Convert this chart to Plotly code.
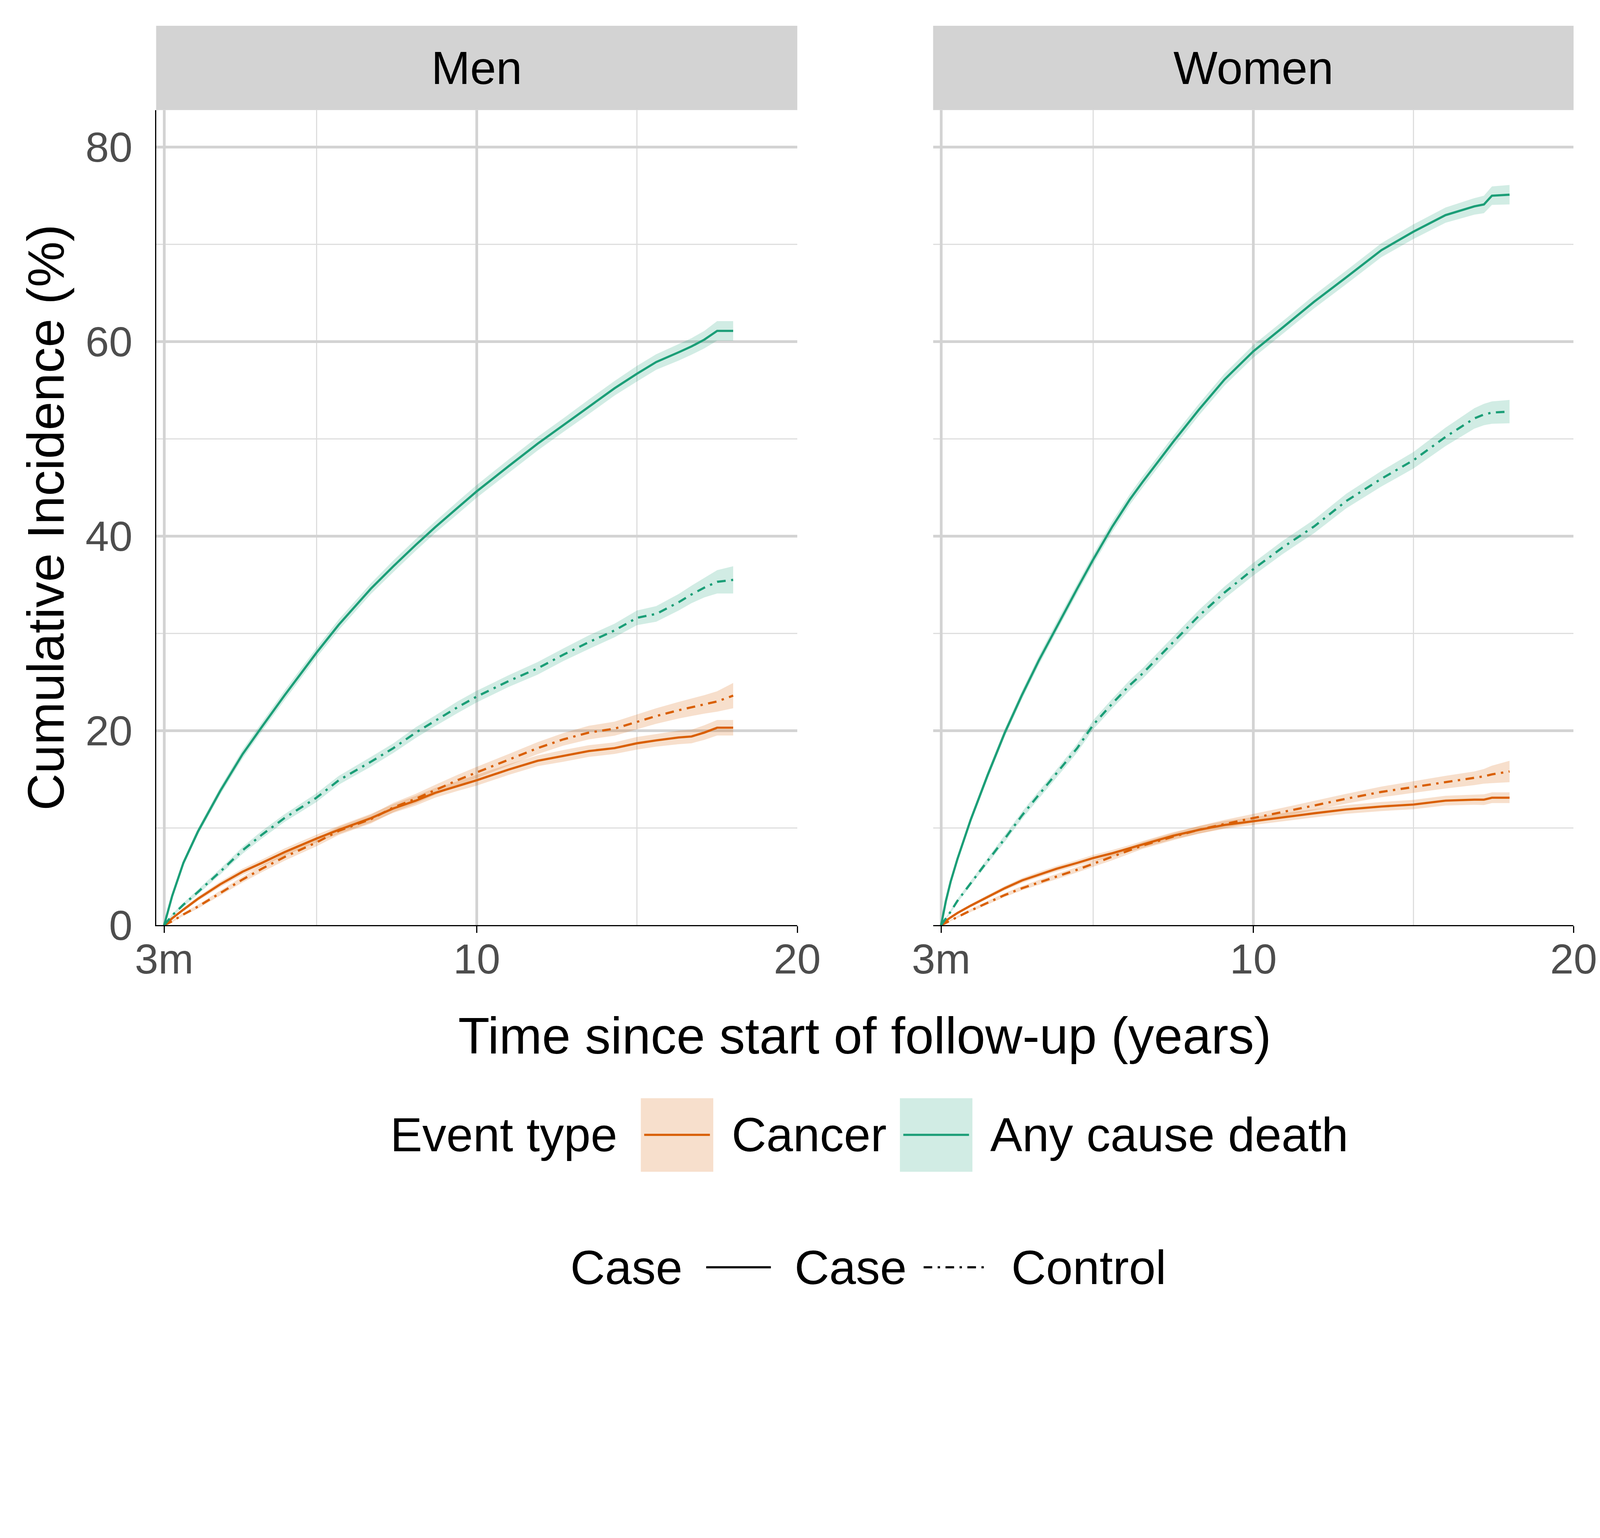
import plotly.graph_objects as go

# time grid (years) for each panel
t_men = [0.25, 0.5, 0.85, 1.3, 2.0, 2.7, 3.3, 4.0, 5.0, 5.7, 6.7, 7.4, 8.1, 8.7, 9.4, 10.0,
         11.0, 11.9, 12.7, 13.5, 14.3, 15.0, 15.6, 16.3, 16.7, 17.1, 17.5, 18.0]
t_women = [0.25, 0.4, 0.55, 0.76, 1.17, 1.7, 2.24, 2.78, 3.3, 3.86, 4.5, 5.0, 5.6, 6.15, 6.55, 7.5,
           8.3, 9.1, 10.0, 10.9, 11.9, 12.9, 14.0, 15.0, 16.0, 16.9, 17.2, 17.45, 18.0]

# Men - cumulative incidence (%) and half width of the ribbon
men_death_case = [0, 3.0, 6.4, 9.6, 13.8, 17.6, 20.4, 23.6, 28.0, 30.9, 34.6, 36.9, 39.1, 40.9, 42.9, 44.6,
                  47.2, 49.5, 51.4, 53.3, 55.2, 56.7, 57.9, 58.9, 59.5, 60.2, 61.1, 61.1]
men_death_ctrl = [0, 1.0, 2.1, 3.4, 5.5, 7.7, 9.3, 11.0, 13.1, 14.9, 16.8, 18.2, 19.8, 21.0, 22.4, 23.5,
                  25.1, 26.4, 27.8, 29.1, 30.3, 31.6, 32.0, 33.2, 34.0, 34.7, 35.3, 35.5]
men_cancer_case = [0, 0.7, 1.6, 2.7, 4.2, 5.5, 6.4, 7.5, 8.9, 9.8, 11.0, 12.0, 12.8, 13.6, 14.3, 14.9,
                   16.0, 16.9, 17.4, 17.9, 18.2, 18.7, 19.0, 19.3, 19.4, 19.8, 20.3, 20.3]
men_cancer_ctrl = [0, 0.4, 1.1, 1.9, 3.3, 4.7, 5.8, 7.0, 8.5, 9.7, 10.9, 12.1, 13.0, 13.9, 14.9, 15.7,
                   17.0, 18.2, 19.1, 19.8, 20.2, 20.9, 21.5, 22.1, 22.4, 22.7, 23.0, 23.6]
men_death_case_ci = [0, 0.25, 0.3, 0.35, 0.4, 0.45, 0.45, 0.5, 0.5, 0.55, 0.55, 0.6, 0.6, 0.6, 0.65, 0.65,
                     0.7, 0.7, 0.7, 0.75, 0.75, 0.8, 0.8, 0.85, 0.85, 0.9, 1.0, 1.0]
men_death_ctrl_ci = [0, 0.15, 0.2, 0.25, 0.3, 0.35, 0.4, 0.4, 0.45, 0.45, 0.5, 0.5, 0.55, 0.55, 0.6, 0.6,
                     0.6, 0.65, 0.65, 0.7, 0.7, 0.75, 0.8, 0.85, 0.9, 1.0, 1.2, 1.4]
men_cancer_case_ci = [0, 0.12, 0.18, 0.22, 0.28, 0.32, 0.35, 0.38, 0.4, 0.42, 0.45, 0.45, 0.5, 0.5, 0.5, 0.55,
                      0.55, 0.55, 0.6, 0.6, 0.6, 0.65, 0.65, 0.7, 0.7, 0.75, 0.8, 0.8]
men_cancer_ctrl_ci = [0, 0.1, 0.15, 0.2, 0.25, 0.3, 0.35, 0.38, 0.4, 0.42, 0.45, 0.48, 0.5, 0.52, 0.55, 0.58,
                      0.6, 0.62, 0.65, 0.7, 0.72, 0.75, 0.8, 0.85, 0.9, 0.95, 1.05, 1.3]

# Women
women_death_case = [0, 2.5, 4.5, 6.8, 10.8, 15.4, 19.8, 23.7, 27.2, 30.7, 34.6, 37.6, 41.0, 43.8, 45.6, 49.7,
                    53.0, 56.1, 59.0, 61.4, 64.1, 66.6, 69.4, 71.3, 73.0, 73.9, 74.1, 75.0, 75.1]
women_death_ctrl = [0, 0.7, 1.4, 2.5, 4.3, 6.6, 8.9, 11.3, 13.4, 15.6, 18.2, 20.6, 22.8, 24.7, 25.9, 29.1,
                    31.8, 34.2, 36.6, 38.8, 41.0, 43.6, 45.9, 47.8, 50.2, 52.1, 52.5, 52.7, 52.8]
women_cancer_case = [0, 0.45, 0.8, 1.25, 2.0, 2.9, 3.8, 4.6, 5.2, 5.8, 6.4, 6.9, 7.4, 7.9, 8.3, 9.2,
                     9.8, 10.3, 10.7, 11.1, 11.5, 11.9, 12.2, 12.4, 12.8, 12.9, 12.9, 13.1, 13.1]
women_cancer_ctrl = [0, 0.25, 0.5, 0.85, 1.5, 2.3, 3.1, 3.8, 4.4, 5.0, 5.7, 6.3, 7.0, 7.7, 8.2, 9.1,
                     9.8, 10.4, 11.0, 11.6, 12.3, 13.0, 13.7, 14.2, 14.7, 15.1, 15.3, 15.5, 15.8]
women_death_case_ci = [0, 0.2, 0.25, 0.3, 0.35, 0.4, 0.42, 0.45, 0.48, 0.5, 0.5, 0.52, 0.55, 0.55, 0.58, 0.6,
                       0.6, 0.62, 0.65, 0.65, 0.68, 0.7, 0.72, 0.75, 0.78, 0.85, 0.9, 0.95, 1.0]
women_death_ctrl_ci = [0, 0.1, 0.15, 0.2, 0.25, 0.3, 0.35, 0.38, 0.4, 0.42, 0.45, 0.48, 0.5, 0.52, 0.55, 0.58,
                       0.6, 0.62, 0.65, 0.68, 0.7, 0.75, 0.8, 0.85, 0.95, 1.05, 1.1, 1.15, 1.2]
women_cancer_case_ci = [0, 0.08, 0.1, 0.13, 0.16, 0.2, 0.22, 0.25, 0.27, 0.28, 0.3, 0.32, 0.33, 0.34, 0.35, 0.37,
                        0.38, 0.4, 0.4, 0.42, 0.43, 0.45, 0.47, 0.48, 0.5, 0.52, 0.55, 0.55, 0.55]
women_cancer_ctrl_ci = [0, 0.06, 0.08, 0.1, 0.14, 0.18, 0.2, 0.22, 0.25, 0.27, 0.28, 0.3, 0.32, 0.34, 0.35, 0.37,
                        0.4, 0.42, 0.44, 0.46, 0.48, 0.5, 0.55, 0.6, 0.65, 0.7, 0.75, 0.9, 1.1]

x_tickvals = [0.25, 10, 20]
x_ticktext = ["3m", "10", "20"]
y_tickvals = [0, 20, 40, 60, 80]
panel_titles = ["Men", "Women"]
event_labels = ["Cancer", "Any cause death"]
case_labels = ["Case", "Control"]

# the page is narrower in css px than the 4724 px picture (~4094 css px across),
# so the figure follows the page width and all pixel sizes are scaled down
REF_W, REF_H = 4724, 3937
VIEW = 4094
S = VIEW / REF_W
BODY = 8  # default page margin of the html page
W, H = VIEW - 2 * BODY, REF_H * S - 2 * BODY
FONT = "Liberation Sans, Arial, sans-serif"
ORANGE = "#D95F02"
GREEN = "#1B9E77"
ORANGE_FILL = "rgba(217,95,2,0.2)"
GREEN_FILL = "rgba(27,158,119,0.2)"
DOTDASH = "%dpx,%dpx,%dpx,%dpx" % (26 * S, 17 * S, 7 * S, 17 * S)
LW = 6.5 * S


def sz(v):
    return v * S


def px_x(p):
    # picture pixel -> paper fraction
    return (p * S - BODY) / W


def px_y(p):
    return 1 - (p * S - BODY) / H


fig = go.Figure()


def add_band(t, y, ci, fill, xa, ya):
    upper = [v + c for v, c in zip(y, ci)]
    lower = [max(v - c, 0) for v, c in zip(y, ci)]
    fig.add_trace(go.Scatter(x=t + t[::-1], y=upper + lower[::-1], fill="toself",
                             fillcolor=fill, line=dict(width=0), mode="lines",
                             hoverinfo="skip", showlegend=False, xaxis=xa, yaxis=ya))


def add_line(t, y, color, dash, xa, ya):
    fig.add_trace(go.Scatter(x=t, y=y, mode="lines", line=dict(color=color, width=LW, dash=dash),
                             showlegend=False, xaxis=xa, yaxis=ya))


panels = [
    ("x", "y", t_men, [(men_cancer_case, men_cancer_case_ci, ORANGE, ORANGE_FILL, "solid"),
                       (men_cancer_ctrl, men_cancer_ctrl_ci, ORANGE, ORANGE_FILL, DOTDASH),
                       (men_death_case, men_death_case_ci, GREEN, GREEN_FILL, "solid"),
                       (men_death_ctrl, men_death_ctrl_ci, GREEN, GREEN_FILL, DOTDASH)]),
    ("x2", "y2", t_women, [(women_cancer_case, women_cancer_case_ci, ORANGE, ORANGE_FILL, "solid"),
                           (women_cancer_ctrl, women_cancer_ctrl_ci, ORANGE, ORANGE_FILL, DOTDASH),
                           (women_death_case, women_death_case_ci, GREEN, GREEN_FILL, "solid"),
                           (women_death_ctrl, women_death_ctrl_ci, GREEN, GREEN_FILL, DOTDASH)]),
]

# ribbons first, then the lines on top
for xa, ya, t, series in panels:
    for y, ci, col, fill, dash in series:
        add_band(t, y, ci, fill, xa, ya)
for xa, ya, t, series in panels:
    for y, ci, col, fill, dash in series:
        add_line(t, y, col, dash, xa, ya)

# panel geometry (pixels of the 4724x3937 picture)
panel_x = [(461, 2354), (2755, 4646)]
panel_top, panel_bottom = 325, 2731
strip_top = 76

grid_major = "#D3D3D3"
grid_minor = "#DEDEDE"
tick_font = dict(family=FONT, size=sz(125), color="#4D4D4D")

for i, (x0, x1) in enumerate(panel_x):
    sfx = "" if i == 0 else "2"
    fig.update_layout(**{
        "xaxis" + sfx: dict(
            domain=[px_x(x0), px_x(x1)], range=[0, 20], anchor="y" + sfx, automargin=False,
            tickvals=x_tickvals, ticktext=x_ticktext, ticks="outside", ticklen=sz(20), tickwidth=sz(3),
            tickcolor="black", showline=True, linecolor="black", linewidth=sz(3),
            showgrid=True, gridcolor=grid_major, gridwidth=sz(8), zeroline=False,
            minor=dict(tickvals=[5, 15], showgrid=True, gridcolor=grid_minor, gridwidth=sz(4), ticks=""),
            tickfont=tick_font, ticklabelstandoff=round(sz(-30)), ticklabeloverflow="allow",
        ),
        "yaxis" + sfx: dict(
            domain=[px_y(panel_bottom), px_y(panel_top)], range=[0, 83.8], anchor="x" + sfx,
            automargin=False, tickvals=y_tickvals, ticks="", showline=(i == 0), linecolor="black",
            linewidth=sz(3), showticklabels=(i == 0), showgrid=True, gridcolor=grid_major,
            gridwidth=sz(8), zeroline=False,
            minor=dict(tickvals=[10, 30, 50, 70], showgrid=True, gridcolor=grid_minor, gridwidth=sz(4), ticks=""),
            tickfont=tick_font, ticklabelstandoff=round(sz(41)),
        ),
    })
    # facet strip
    fig.add_shape(type="rect", xref="paper", yref="paper", x0=px_x(x0), x1=px_x(x1),
                  y0=px_y(panel_top), y1=px_y(strip_top), fillcolor="#D3D3D3", line=dict(width=0),
                  layer="below")
    fig.add_annotation(x=px_x((x0 + x1) / 2), y=px_y((strip_top + panel_top) / 2), xref="paper",
                       yref="paper", text=panel_titles[i], showarrow=False,
                       font=dict(family=FONT, size=sz(138), color="black"), xanchor="center", yanchor="middle")

# axis titles
title_font = dict(family=FONT, size=sz(152), color="black")
fig.add_annotation(x=px_x(2553), y=px_y(3058), xref="paper", yref="paper",
                   text="Time since start of follow-up (years)", showarrow=False,
                   font=title_font, xanchor="center", yanchor="middle")
fig.add_annotation(x=px_x(135), y=px_y(1528), xref="paper", yref="paper",
                   text="Cumulative Incidence (%)", textangle=-90, showarrow=False,
                   font=title_font, xanchor="center", yanchor="middle")

# legend 1: event type (ribbon box with line key)
leg_font = dict(family=FONT, size=sz(142), color="black")
ly = 3350
fig.add_annotation(x=px_x(1150), y=px_y(ly), xref="paper", yref="paper", text="Event type",
                   showarrow=False, font=leg_font, xanchor="left", yanchor="middle")
keys = [(1892, 2106, ORANGE, ORANGE_FILL, 2158), (2657, 2871, GREEN, GREEN_FILL, 2921)]
for (k0, k1, col, fill, tx), lab in zip(keys, event_labels):
    fig.add_shape(type="rect", xref="paper", yref="paper", x0=px_x(k0), x1=px_x(k1),
                  y0=px_y(3459), y1=px_y(3242), fillcolor=fill, line=dict(width=0))
    fig.add_shape(type="line", xref="paper", yref="paper", x0=px_x(k0 + 10), x1=px_x(k1 - 10),
                  y0=px_y(ly), y1=px_y(ly), line=dict(color=col, width=LW))
    fig.add_annotation(x=px_x(tx), y=px_y(ly), xref="paper", yref="paper", text=lab,
                       showarrow=False, font=leg_font, xanchor="left", yanchor="middle")

# legend 2: case / control linetype
ly2 = 3741
fig.add_annotation(x=px_x(1682), y=px_y(ly2), xref="paper", yref="paper", text="Case",
                   showarrow=False, font=leg_font, xanchor="left", yanchor="middle")
keys2 = [(2085, 2276, "solid", 2343), (2727, 2906, DOTDASH, 2984)]
for (k0, k1, dash, tx), lab in zip(keys2, case_labels):
    fig.add_shape(type="line", xref="paper", yref="paper", x0=px_x(k0), x1=px_x(k1),
                  y0=px_y(ly2), y1=px_y(ly2), line=dict(color="black", width=LW, dash=dash))
    fig.add_annotation(x=px_x(tx), y=px_y(ly2), xref="paper", yref="paper", text=lab,
                       showarrow=False, font=leg_font, xanchor="left", yanchor="middle")

fig.update_layout(margin=dict(l=0, r=0, t=0, b=0), autosize=True,
                  paper_bgcolor="white", plot_bgcolor="white", showlegend=False,
                  font=dict(family=FONT))

# width follows the page, height keeps the 4724:3937 shape of the picture
fig.write_html("out.html", default_width="100%",
               default_height="calc(%.4fvw - %dpx)" % (100 * REF_H / REF_W, 2 * BODY))
